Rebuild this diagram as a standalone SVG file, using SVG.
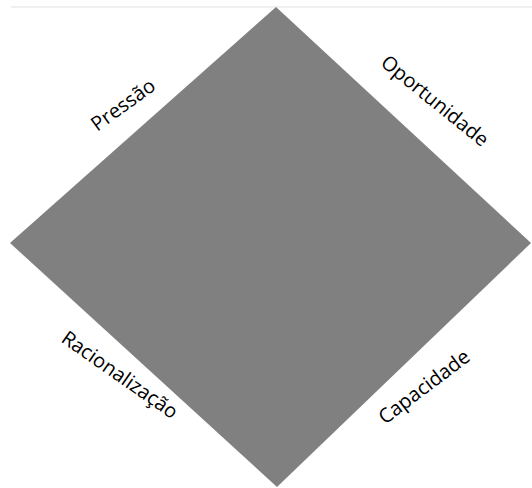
<svg xmlns="http://www.w3.org/2000/svg" width="532" height="488" viewBox="0 0 532 488">
<style>
.lbl{font-family:"Open Sans","Liberation Sans",sans-serif;font-size:20px;fill:#000;text-anchor:middle;dominant-baseline:middle}
</style>
<rect width="532" height="488" fill="#ffffff"/>
<line x1="11" y1="7" x2="532" y2="7" stroke="#ebebeb" stroke-width="1.5"/>
<g id="diamond">
<polygon points="276,7 531,243 277,487 10,243" fill="#808080"/>
</g>
<g id="pressao"><text class="lbl" transform="translate(124,106) rotate(-36)">Pressão</text></g>
<g id="oportunidade"><text class="lbl" transform="translate(434,102) rotate(39)">Oportunidade</text></g>
<g id="racionalizacao"><text class="lbl" transform="translate(119,376) rotate(35)">Racionalização</text></g>
<g id="capacidade"><text class="lbl" transform="translate(425,388) rotate(-37)">Capacidade</text></g>
<g id="connectors"></g>
</svg>
